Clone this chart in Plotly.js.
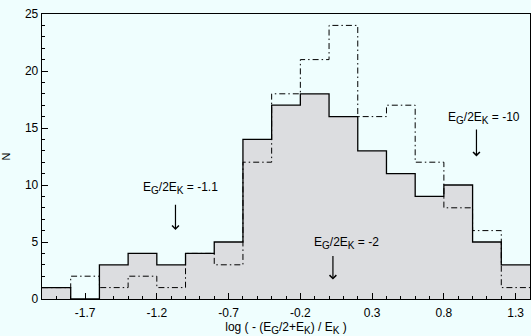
<!DOCTYPE html>
<html>
<head>
<meta charset="utf-8">
<script src="https://cdn.plot.ly/plotly-3.0.1.min.js"></script>
<style>html,body{margin:0;padding:0;background:#effefe;}</style>
</head>
<body>
<div id="chart" style="width:531px;height:336px;"></div>
<script>
// Bin edges (log ( -(E_G/2+E_K)/E_K )), width 0.2
const binEdges = [-2.0,-1.8,-1.6,-1.4,-1.2,-1.0,-0.8,-0.6,-0.4,-0.2,0.0,0.2,0.4,0.6,0.8,1.0,1.2,1.4];
// Solid (filled) histogram counts
const solidCounts = [1,0,3,4,3,4,5,14,17,18,16,13,11,9,10,5,3];
// Dash-dot histogram counts
const dashCounts  = [1,2,1,2,1,4,3,12,18,21,24,16,17,12,8,6,1];
// Tick labels
const xTickVals = [-1.7,-1.2,-0.7,-0.2,0.3,0.8,1.3];
const xTickText = ["-1.7","-1.2","-0.7","-0.2","0.3","0.8","1.3"];
const yTickVals = [0,5,10,15,20,25];
// Annotations: label, text position, arrow tail and tip
function sb(t, px){ return '<sub><span style="font-size:' + px + 'px">' + t + '</span></sub>'; }
const annLabels = [
  'E' + sb('G',10) + '/2E' + sb('K',10) + ' = -1.1',
  'E' + sb('G',10) + '/2E' + sb('K',10) + ' = -2',
  'E' + sb('G',10) + '/2E' + sb('K',10) + ' = -10'
];
const annTextX = [-1.036, 0.118, 1.076];
const annTextY = [9.7, 4.9, 15.9];
const arrowX = [-1.07, 0.027, 1.027];
const arrowTailY = [8.4, 3.9, 15.0];
const arrowTipY = [6.05, 1.7, 12.5];
const xTitle = 'log ( - (E' + sb('G',10) + '/2+E' + sb('K',10) + ') / E' + sb('K',10) + ' )';

function stepY(v){ return v.concat([v[v.length-1]]); }

const traces = [
  {x: binEdges, y: stepY(solidCounts), type:'scatter', mode:'lines',
   line:{shape:'hv', color:'#000', width:1.3}, fill:'tozeroy', fillcolor:'#dcdde0',
   hoverinfo:'skip', showlegend:false},
  {x: binEdges, y: stepY(dashCounts), type:'scatter', mode:'lines',
   line:{shape:'hv', color:'#000', width:1, dash:'6px,3px,1.5px,3px'},
   hoverinfo:'skip', showlegend:false}
];

const font = {family:'"Liberation Sans", Arial, sans-serif', size:12, color:'#000'};
const annotations = [];
for (let i=0;i<annLabels.length;i++){
  annotations.push({x:annTextX[i], y:annTextY[i], xref:'x', yref:'y', text:annLabels[i],
    showarrow:false, font:{family:font.family, size:12, color:'#000'}});
  annotations.push({x:arrowX[i], y:arrowTipY[i], ax:arrowX[i], ay:arrowTailY[i],
    xref:'x', yref:'y', axref:'x', ayref:'y', text:'', showarrow:true,
    arrowhead:4, arrowsize:1.1, arrowwidth:1.2, arrowcolor:'#000'});
}

const layout = {
  width:531, height:336,
  margin:{l:42, r:1, t:14, b:37},
  paper_bgcolor:'#effefe', plot_bgcolor:'#effefe',
  font: font,
  showlegend:false,
  xaxis:{range:[-2.0,1.4], tickvals:xTickVals, ticktext:xTickText,
    ticks:'inside', ticklen:6, tickwidth:1, tickcolor:'#000', ticklabelstandoff:2,
    tickfont:{size:12},
    minor:{dtick:0.1, tick0:-2.0, ticks:'inside', ticklen:3, tickcolor:'#000', showgrid:false},
    showline:true, linecolor:'#000', linewidth:1.3, mirror:true,
    showgrid:false, zeroline:false,
    title:{text:xTitle, standoff:5, font:{size:12}}},
  yaxis:{range:[0,25], tickvals:yTickVals,
    ticks:'inside', ticklen:6, tickwidth:1, tickcolor:'#000',
    tickfont:{size:12},
    minor:{dtick:1, tick0:0, ticks:'inside', ticklen:3, tickcolor:'#000', showgrid:false},
    showline:true, linecolor:'#000', linewidth:1.3, mirror:true,
    showgrid:false, zeroline:false,
    title:{text:'N', standoff:12, font:{size:11}}},
  annotations: annotations
};

Plotly.newPlot('chart', traces, layout, {staticPlot:true, displayModeBar:false});
</script>
</body>
</html>
